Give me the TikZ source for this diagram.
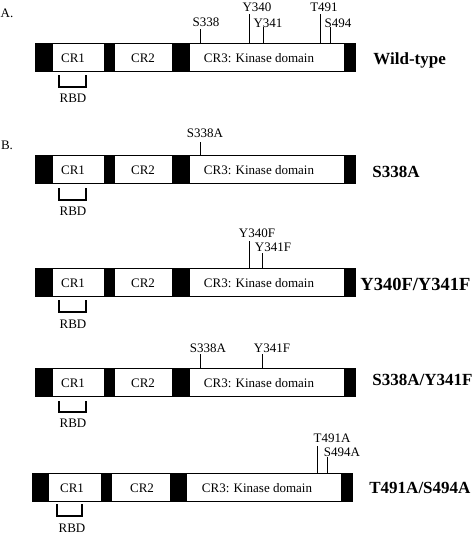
\documentclass[tikz,border=0pt]{standalone}
\usepackage{fontspec}
\setmainfont{Liberation Serif}

\begin{document}
\begin{tikzpicture}[x=1pt, y=-1pt, line width=0.8pt,
    lbl/.style={inner sep=0pt, font=\fontsize{13}{15}\selectfont},
    mutant/.style={inner sep=0pt, anchor=west, font=\fontsize{17}{19}\selectfont\bfseries},
    blk/.style={fill=black},
    rbd/.style={line width=1.2pt}]
  \useasboundingbox (0,0) rectangle (474,536);
  \node [lbl] (partA) at (7,13) {A.};
  \node [lbl] (partB) at (7,145) {B.};
  % wild-type
  \begin{scope}[shift={(0,43)}]
    \draw (35,0) rectangle (355,28);
    \fill [blk] (35,0) rectangle (53,28);
    \fill [blk] (104,0) rectangle (115,28);
    \fill [blk] (172,0) rectangle (190,28);
    \fill [blk] (344,0) rectangle (355,28);
    \node [lbl] (crAwt) at (73,15) {CR1};
    \node [lbl] (crBwt) at (143,15) {CR2};
    \node [lbl] (crCwt) at (259,15) {CR3: Kinase domain};
    \draw (200,0) -- (200,-14);
    \node [lbl] (sA) at (206,-21) {S338};
    \draw (249,0) -- (249,-29);
    \node [lbl] (yA) at (257,-36) {Y340};
    \draw (263,0) -- (263,-16);
    \node [lbl] (yB) at (268,-20) {Y341};
    \draw (320,0) -- (320,-29);
    \node [lbl] (tA) at (324,-36) {T491};
    \draw (330,0) -- (330,-16);
    \node [lbl] (sB) at (338,-20) {S494};
    \draw [rbd] (59,32) -- (59,44) -- (86,44) -- (86,32);
    \node [lbl] (rbdwt) at (73,55) {RBD};
    \node [mutant] (wt) at (373,17) {Wild-type};
  \end{scope}
  % S338A
  \begin{scope}[shift={(0,155)}]
    \draw (35,0) rectangle (355,28);
    \fill [blk] (35,0) rectangle (53,28);
    \fill [blk] (104,0) rectangle (115,28);
    \fill [blk] (172,0) rectangle (190,28);
    \fill [blk] (344,0) rectangle (355,28);
    \node [lbl] (crAsa) at (73,15) {CR1};
    \node [lbl] (crBsa) at (143,15) {CR2};
    \node [lbl] (crCsa) at (259,15) {CR3: Kinase domain};
    \draw (200,0) -- (200,-13);
    \node [lbl] (saA) at (205,-22) {S338A};
    \draw [rbd] (59,33) -- (59,45) -- (86,45) -- (86,33);
    \node [lbl] (rbdsa) at (73,56) {RBD};
    \node [mutant] (sa) at (372,17) {S338A};
  \end{scope}
  % Y340F/Y341F
  \begin{scope}[shift={(0,268)}]
    \draw (35,0) rectangle (355,28);
    \fill [blk] (35,0) rectangle (53,28);
    \fill [blk] (104,0) rectangle (115,28);
    \fill [blk] (172,0) rectangle (190,28);
    \fill [blk] (344,0) rectangle (355,28);
    \node [lbl] (crAyf) at (73,15) {CR1};
    \node [lbl] (crByf) at (143,15) {CR2};
    \node [lbl] (crCyf) at (259,15) {CR3: Kinase domain};
    \draw (249,0) -- (249,-27);
    \node [lbl] (yfA) at (257,-35) {Y340F};
    \draw (262,0) -- (262,-15);
    \node [lbl] (yfB) at (273,-21) {Y341F};
    \draw [rbd] (59,32) -- (59,44) -- (86,44) -- (86,32);
    \node [lbl] (rbdyf) at (73,56) {RBD};
    \node [mutant, font=\fontsize{18.5}{20}\selectfont\bfseries] (yf) at (360,16) {Y340F/Y341F};
  \end{scope}
  % S338A/Y341F
  \begin{scope}[shift={(0,368)}]
    \draw (35,0) rectangle (355,28);
    \fill [blk] (35,0) rectangle (53,28);
    \fill [blk] (104,0) rectangle (115,28);
    \fill [blk] (172,0) rectangle (190,28);
    \fill [blk] (344,0) rectangle (355,28);
    \node [lbl] (crAsy) at (73,15) {CR1};
    \node [lbl] (crBsy) at (143,15) {CR2};
    \node [lbl] (crCsy) at (259,15) {CR3: Kinase domain};
    \draw (200,0) -- (200,-14);
    \node [lbl] (syA) at (208,-20) {S338A};
    \draw (262,0) -- (262,-14);
    \node [lbl] (syB) at (272,-20) {Y341F};
    \draw [rbd] (59,33) -- (59,44) -- (86,44) -- (86,33);
    \node [lbl] (rbdsy) at (73,55) {RBD};
    \node [mutant] (sy) at (372,12) {S338A/Y341F};
  \end{scope}
  % T491A/S494A
  \begin{scope}[shift={(-3,473)}]
    \draw (35,0) rectangle (355,28);
    \fill [blk] (35,0) rectangle (52,28);
    \fill [blk] (104,0) rectangle (115,28);
    \fill [blk] (173,0) rectangle (190,28);
    \fill [blk] (344,0) rectangle (355,28);
    \node [lbl] (crAts) at (75,15) {CR1};
    \node [lbl] (crBts) at (145,15) {CR2};
    \node [lbl] (crCts) at (260,15) {CR3: Kinase domain};
    \draw (320,0) -- (320,-27);
    \node [lbl] (tsA) at (335,-35) {T491A};
    \draw (330,0) -- (330,-16);
    \node [lbl] (tsB) at (345,-21) {S494A};
    \draw [rbd] (60,31) -- (60,43) -- (85,43) -- (85,31);
    \node [lbl] (rbdts) at (75,55) {RBD};
    \node [mutant] (ts) at (372,15) {T491A/S494A};
  \end{scope}
\end{tikzpicture}
\end{document}
